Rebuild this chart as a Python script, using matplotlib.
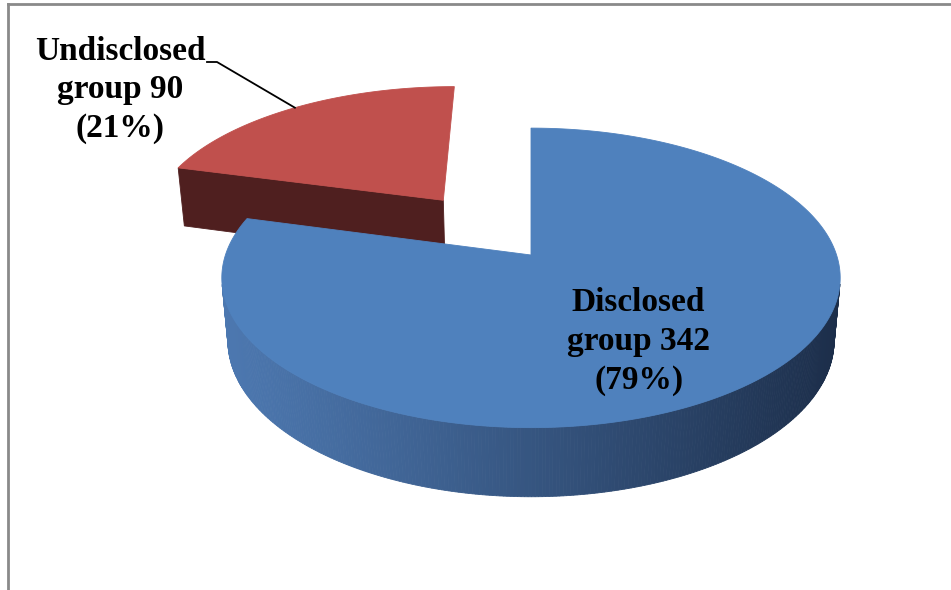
import numpy as np
import matplotlib
matplotlib.use('Agg')
from matplotlib import pyplot as plt
from matplotlib.patches import Polygon

groups = ['Disclosed group', 'Undisclosed group']
counts = [342, 90]
top_colors = ['#4F81BD', '#C0504D']
explode = [0.0, 0.5]

# simple perspective camera for the 3d pie (pixel space)
cx, cy = 531, 255
D = 5.75
phi = np.radians(28.6)
F = 1757
h = 0.236


def proj(X, Y, Z):
    depth = D + Y * np.cos(phi) - Z * np.sin(phi)
    sx = cx + F * X / depth
    sy = cy - F * (Y * np.sin(phi) + Z * np.cos(phi)) / depth
    return np.column_stack([sx, sy]) if np.ndim(sx) else np.array([sx, sy])


fig = plt.figure(figsize=(9.51, 5.90), dpi=100)
ax = fig.add_axes([0, 0, 1, 1])
ax.set_xlim(0, 951)
ax.set_ylim(590, 0)
ax.axis('off')

total = sum(counts)
fracs = [c / total for c in counts]

# slice angle ranges, clockwise from 12 o'clock
spans = []
start = 90.0
for f in fracs:
    end = start - 360 * f
    spans.append((start, end))
    start = end

blue_side_light = np.array([0.30, 0.47, 0.69])
blue_side_dark = np.array([0.11, 0.18, 0.29])
red_side = '#4F1F1F'


def draw_slice(i):
    a0, a1 = spans[i]
    mid = np.radians((a0 + a1) / 2)
    ox, oy = explode[i] * np.cos(mid), explode[i] * np.sin(mid)
    t = np.radians(np.linspace(a0, a1, 500))
    X = np.cos(t) + ox
    Y = np.sin(t) + oy
    top = proj(X, Y, np.zeros_like(t))
    bot = proj(X, Y, np.full_like(t, -h))

    # curved outer wall (only the front-facing part shows), far strips first
    cam_y, cam_z = -D * np.cos(phi), D * np.sin(phi)
    facing = -np.cos(t) * X + np.sin(t) * (cam_y - Y) > 0
    xmin, xmax = top[:, 0].min(), top[:, 0].max()
    order = np.argsort(-(Y[:-1] + Y[1:]))
    for k in order:
        if not (facing[k] or facing[k + 1]):
            continue
        quad = [top[k], top[k + 1], bot[k + 1], bot[k]]
        if i == 0:
            fr = ((top[k, 0] + top[k + 1, 0]) / 2 - xmin) / (xmax - xmin)
            col = blue_side_light + (blue_side_dark - blue_side_light) * fr ** 1.1
        else:
            col = red_side
        ax.add_patch(Polygon(quad, closed=True, facecolor=col, edgecolor=col, lw=0.6))

    # radial cut face at the start angle of the slice
    apex_t = proj(ox, oy, 0.0)
    apex_b = proj(ox, oy, -h)
    face_col = '#1E3250' if i == 0 else red_side
    quad = [apex_t, top[0], bot[0], apex_b]
    ax.add_patch(Polygon(quad, closed=True, facecolor=face_col, edgecolor=face_col, lw=0.6))

    # top face
    poly = np.vstack([apex_t, top])
    ax.add_patch(Polygon(poly, closed=True, facecolor=top_colors[i], edgecolor=top_colors[i], lw=0.6))
    return ox, oy, mid


draw_slice(1)
ox, oy, mid_blue = draw_slice(0)

font = dict(family=['Liberation Serif', 'DejaVu Serif'], weight='bold', size=24, linespacing=1.32)

# label on the big slice
lp = proj(0.55 * np.cos(mid_blue), 0.55 * np.sin(mid_blue), 0.0)
ax.text(lp[0] - 2, lp[1] + 18, f'{groups[0].split()[0]}\ngroup {counts[0]}\n({fracs[0]:.0%})',
        ha='center', va='center', multialignment='center', color='black', **font)

# label with leader line on the small slice
a0, a1 = spans[1]
mid_red = np.radians((a0 + a1) / 2)
ex, ey = explode[1] * np.cos(mid_red), explode[1] * np.sin(mid_red)
tip = proj(np.cos(mid_red) + ex, np.sin(mid_red) + ey, 0.0)
ax.plot([207, 217, tip[0]], [62, 62, tip[1]], color='black', lw=1.3)
ax.text(120, 90, f'{groups[1].split()[0]}\ngroup {counts[1]}\n({fracs[1]:.0%})',
        ha='center', va='center', multialignment='center', color='black', **font)

# outer frame (top and left edges)
ax.plot([8, 951], [3.5, 3.5], color='#8A8A8A', lw=2)
ax.plot([8, 8], [3.5, 590], color='#8A8A8A', lw=2)

fig.savefig('out.png', dpi=100)
